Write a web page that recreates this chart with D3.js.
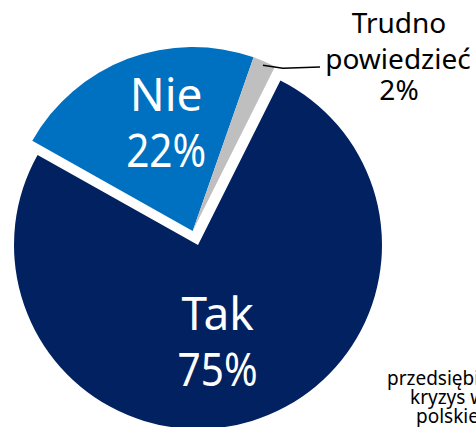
<!DOCTYPE html>
<html>
<head>
<meta charset="utf-8">
<script src="https://cdn.jsdelivr.net/npm/d3@7"></script>
<style>
  body { margin: 0; background: #fff; overflow: hidden; }
  svg { display: block; font-family: "Noto Sans", "Open Sans", sans-serif; }
</style>
</head>
<body>
<svg></svg>
<script>
// data
var categories = ["Tak", "Nie", "Trudno powiedzieć"];
var values = [75, 22, 2];
var percentLabels = ["75%", "22%", "2%"];
var colors = ["#022160", "#0070c0", "#bfbfbf"];

var width = 476, height = 427;
var cx = 198, cy = 245, radius = 184;
var deg = Math.PI / 180;

var svg = d3.select("svg")
    .attr("width", width)
    .attr("height", height);

var pie = d3.pie()
    .sort(null)
    .value(function (d) { return d; })
    .startAngle(26.6 * deg)
    .endAngle(386.6 * deg);

var arcs = pie(values);

var arc = d3.arc()
    .innerRadius(0)
    .outerRadius(radius);

// "Nie" and "Trudno" are pulled out together along the "Nie" direction
var explodeAngle = (arcs[1].startAngle + arcs[1].endAngle) / 2;
var explodeDist = 15;
var shift = [0, 1, 1].map(function (k) {
  return [k * explodeDist * Math.sin(explodeAngle), -k * explodeDist * Math.cos(explodeAngle)];
});

var g = svg.append("g")
    .attr("transform", "translate(" + cx + "," + cy + ")");

g.selectAll("path.slice")
  .data(arcs)
  .enter()
  .append("path")
    .attr("class", "slice")
    .attr("d", arc)
    .attr("fill", function (d, i) { return colors[i]; })
    .attr("transform", function (d, i) { return "translate(" + shift[i][0] + "," + shift[i][1] + ")"; });

// inside labels (Tak, Nie)
var labelPolar = [
  { r: 87, a: 4 },   // radius, extra angle (deg) for the first baseline
  { r: 123, a: 8.2 }
];

[0, 1].forEach(function (i) {
  var d = arcs[i];
  var a = (d.startAngle + d.endAngle) / 2 + labelPolar[i].a * deg;
  var x = shift[i][0] + labelPolar[i].r * Math.sin(a);
  var y = shift[i][1] - labelPolar[i].r * Math.cos(a);
  var t = g.append("text")
      .attr("text-anchor", "middle")
      .attr("fill", "#fff")
      .attr("font-size", 46)
      .attr("transform", "translate(" + x + "," + y + ")");
  t.append("tspan").attr("x", 0).attr("y", 0).text(categories[i]);
  t.append("tspan").attr("x", 0).attr("y", 56)
      .attr("textLength", 80)
      .attr("lengthAdjust", "spacingAndGlyphs")
      .text(percentLabels[i]);
});

// outside label for the small slice with a leader line
var small = arcs[2];
var ma = (small.startAngle + small.endAngle) / 2;
var p0 = [shift[2][0] + (radius - 4) * Math.sin(ma), shift[2][1] - (radius - 4) * Math.cos(ma)];
g.append("path")
    .attr("d", "M" + p0[0] + "," + p0[1] + "L" + (p0[0] + 20) + "," + (p0[1] + 3) + "L" + (320 - cx) + "," + (67 - cy))
    .attr("fill", "none")
    .attr("stroke", "#000")
    .attr("stroke-width", 1.5);

var ol = svg.append("text")
    .attr("text-anchor", "middle")
    .attr("fill", "#000")
    .attr("font-size", 28)
    .attr("transform", "translate(399,33)");
ol.append("tspan").attr("x", 0).attr("y", 0).text("Trudno");
ol.append("tspan").attr("x", -1).attr("y", 36).text("powiedzieć");
ol.append("tspan").attr("x", 0).attr("y", 67).text(percentLabels[2]);

// text of a neighbouring element, cut by the frame
var sideLines = ["przedsiębiorców", "kryzys w", "polskiej"];
var side = svg.append("text")
    .attr("fill", "#000")
    .attr("font-size", 19);
side.selectAll("tspan")
  .data(sideLines)
  .enter()
  .append("tspan")
    .attr("x", function (d, i) { return [387, 410, 416][i]; })
    .attr("y", function (d, i) { return 385 + i * 19; })
    .text(function (d) { return d; });
</script>
</body>
</html>
